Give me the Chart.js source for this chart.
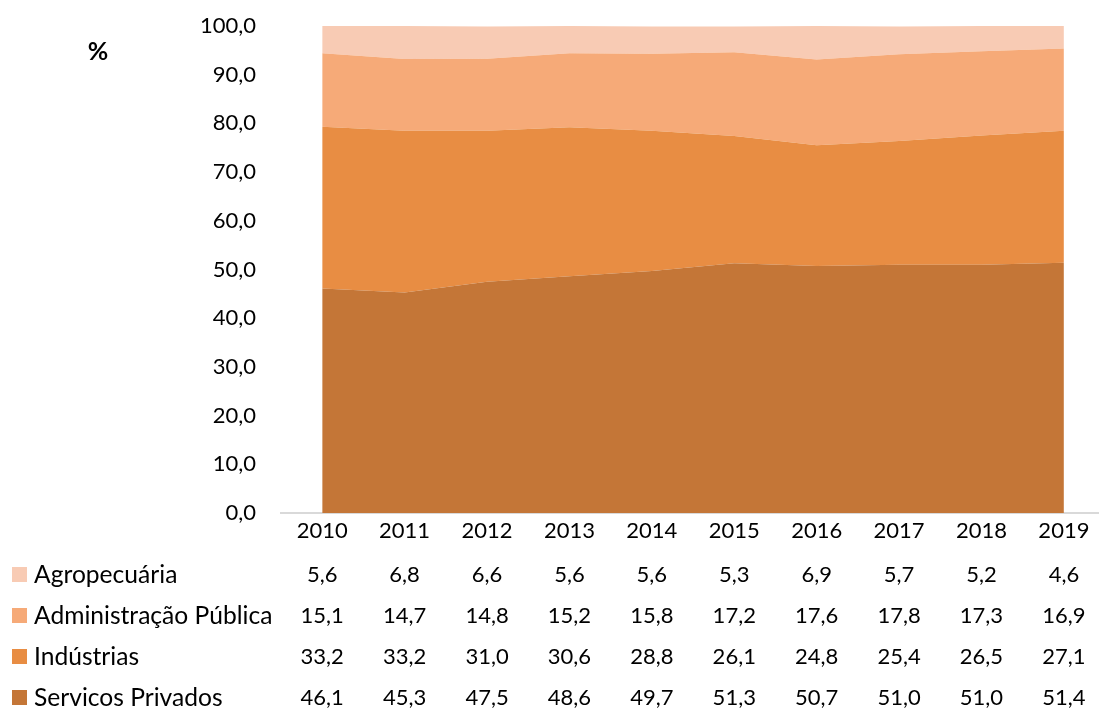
<!DOCTYPE html>
<html>
<head>
<meta charset="utf-8">
<script src="https://cdn.jsdelivr.net/npm/chart.js@4/dist/chart.umd.min.js"></script>
<style>
  html, body { margin: 0; padding: 0; background: #fff; }
  #wrap { width: 1099px; height: 708px; position: relative; }
</style>
</head>
<body>
<div id="wrap"><canvas id="chartSetores"></canvas></div>
<script>
// Dados (participação % no VAB)
const years = ["2010", "2011", "2012", "2013", "2014", "2015", "2016", "2017", "2018", "2019"];
const servicosPrivados = [46.1, 45.3, 47.5, 48.6, 49.7, 51.3, 50.7, 51.0, 51.0, 51.4];
const industrias = [33.2, 33.2, 31.0, 30.6, 28.8, 26.1, 24.8, 25.4, 26.5, 27.1];
const administracaoPublica = [15.1, 14.7, 14.8, 15.2, 15.8, 17.2, 17.6, 17.8, 17.3, 16.9];
const agropecuaria = [5.6, 6.8, 6.6, 5.6, 5.6, 5.3, 6.9, 5.7, 5.2, 4.6];
const yTicks = [0, 10, 20, 30, 40, 50, 60, 70, 80, 90, 100];

const FONT = "Lato, 'Noto Sans', sans-serif";
const fmt = (v) => v.toFixed(1).replace(".", ",");

// ordem de empilhamento (de baixo para cima)
const series = [
    { label: "Servicos Privados", data: servicosPrivados, color: "#c47637" },
    { label: "Indústrias", data: industrias, color: "#e88d43" },
    { label: "Administração Pública", data: administracaoPublica, color: "#f6aa78" },
    { label: "Agropecuária", data: agropecuaria, color: "#f8cbb4" },
];

// tabela de dados abaixo do eixo
const dataTablePlugin = {
    id: "dataTable",
    afterDraw(chart) {
        const ctx = chart.ctx;
        const xScale = chart.scales.x;
        ctx.save();
        ctx.fillStyle = "#000";
        ctx.font = "bold 25px " + FONT;
        ctx.textAlign = "center";
        ctx.textBaseline = "middle";
        ctx.fillText("%", 98, 52);

        const rows = series.slice().reverse();
        rows.forEach((s, k) => {
            const y = 575 + k * 41;
            ctx.fillStyle = s.color;
            ctx.fillRect(12, y - 8, 15, 15);
            ctx.fillStyle = "#000";
            ctx.textAlign = "left";
            ctx.font = "24.6px " + FONT;
            ctx.fillText(s.label, 34, y);
            ctx.textAlign = "center";
            ctx.font = "22px " + FONT;
            s.data.forEach((v, i) => {
                ctx.fillText(fmt(v), xScale.getPixelForValue(i), y);
            });
        });
        ctx.restore();
    },
};

const ctx = document.getElementById("chartSetores").getContext("2d");
new Chart(ctx, {
    type: "line",
    data: {
        datasets: series.map((s, idx) => ({
            label: s.label,
            data: s.data.map((v, i) => ({ x: i, y: v })),
            backgroundColor: s.color,
            borderWidth: 0,
            pointRadius: 0,
            tension: 0,
            fill: idx === 0 ? "origin" : "-1",
        })),
    },
    options: {
        responsive: true,
        maintainAspectRatio: false,
        animation: false,
        layout: { padding: { top: 26, left: 0, right: 0, bottom: 0 } },
        scales: {
            x: {
                type: "linear",
                min: -0.5,
                max: 9.426,
                afterBuildTicks: (scale) => {
                    scale.ticks = years.map((_, i) => ({ value: i }));
                },
                afterFit: (scale) => {
                    scale.height = 195;
                    scale.paddingLeft = 0;
                    scale.paddingRight = 0;
                },
                ticks: {
                    color: "#000",
                    padding: 5,
                    maxRotation: 0,
                    autoSkip: false,
                    font: { family: FONT, size: 22 },
                    callback: (v) => years[v],
                },
                grid: { display: false, drawTicks: false },
                border: { display: true, color: "#d9d9d9", width: 2 },
            },
            y: {
                stacked: true,
                min: 0,
                max: 100,
                afterBuildTicks: (scale) => {
                    scale.ticks = yTicks.map((v) => ({ value: v }));
                },
                afterFit: (scale) => {
                    scale.width = 281;
                    scale.paddingTop = 0;
                    scale.paddingBottom = 0;
                },
                ticks: {
                    color: "#000",
                    padding: 25,
                    font: { family: FONT, size: 22 },
                    callback: (v) => fmt(v),
                },
                grid: { display: false, drawTicks: false },
                border: { display: false },
            },
        },
        plugins: {
            legend: { display: false },
            tooltip: { enabled: false },
        },
    },
    plugins: [dataTablePlugin],
});
</script>
</body>
</html>
